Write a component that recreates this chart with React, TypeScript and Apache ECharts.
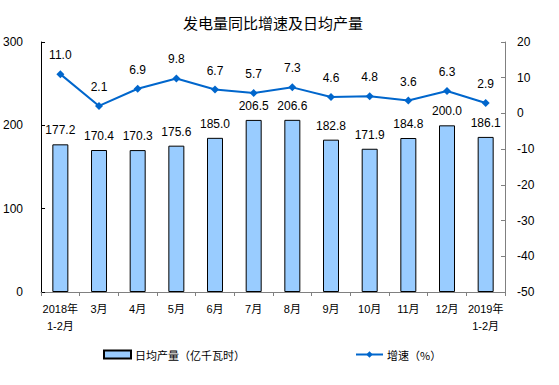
import React, { useEffect, useRef } from "react";
import * as echarts from "echarts";

const categories = ["2018年\n1-2月", "3月", "4月", "5月", "6月", "7月", "8月", "9月", "10月", "11月", "12月", "2019年\n1-2月"];
const dailyOutput = [177.2, 170.4, 170.3, 175.6, 185.0, 206.5, 206.6, 182.8, 171.9, 184.8, 200.0, 186.1];
const growthRate = [11.0, 2.1, 6.9, 9.8, 6.7, 5.7, 7.3, 4.6, 4.8, 3.6, 6.3, 2.9];
const leftTicks = { min: 0, max: 300, interval: 100 };
const rightTicks = { min: -50, max: 20, interval: 10 };
const title = "发电量同比增速及日均产量";
const barName = "日均产量（亿千瓦时）";
const lineName = "增速（%）";

const FONT = "'Liberation Sans', Arial, 'Noto Sans CJK SC', sans-serif";

export default function App() {
  const ref = useRef<HTMLDivElement>(null);
  useEffect(() => {
    document.body.style.margin = "0";
    const chart = echarts.init(ref.current!, undefined, { renderer: "svg" });
    chart.setOption({
      animation: false,
      backgroundColor: "#ffffff",
      textStyle: { fontFamily: FONT },
      title: {
        text: title,
        left: 268,
        textAlign: "center",
        top: 10,
        textStyle: { fontSize: 15, fontWeight: "normal", color: "#000", fontFamily: "'Noto Sans CJK SC', sans-serif" },
      },
      legend: {
        left: 98,
        top: 344,
        itemWidth: 27,
        itemHeight: 8,
        itemGap: 110,
        textStyle: { fontSize: 11, color: "#000", fontFamily: "'Noto Sans CJK SC', sans-serif", padding: [0, 0, 0, -1] },
        data: [
          { name: barName, icon: "rect" },
          { name: lineName },
        ],
      },
      grid: { left: 40, right: 54, top: 42, bottom: 93 },
      xAxis: {
        type: "category",
        data: categories,
        axisLine: { lineStyle: { color: "#808080", width: 1 } },
        axisTick: { show: true, alignWithLabel: false, length: 4, lineStyle: { color: "#808080" } },
        axisLabel: { interval: 0, fontSize: 11, color: "#000", lineHeight: 17, margin: 8 },
      },
      yAxis: [
        {
          type: "value",
          min: leftTicks.min,
          max: leftTicks.max,
          interval: leftTicks.interval,
          axisLine: { show: true, lineStyle: { color: "#000" } },
          axisTick: { show: true, inside: true, length: 4, lineStyle: { color: "#000" } },
          axisLabel: { fontSize: 12, color: "#000", margin: 18 },
          splitLine: { show: false },
        },
        {
          type: "value",
          min: rightTicks.min,
          max: rightTicks.max,
          interval: rightTicks.interval,
          axisLine: { show: true, lineStyle: { color: "#808080" } },
          axisTick: { show: true, inside: true, length: 4, lineStyle: { color: "#808080" } },
          axisLabel: { fontSize: 12, color: "#000", margin: 12 },
          splitLine: { show: false },
        },
      ],
      series: [
        {
          name: barName,
          type: "bar",
          data: dailyOutput,
          yAxisIndex: 0,
          barWidth: 16,
          itemStyle: { color: "#99CCFF", borderColor: "#000", borderWidth: 1 },
          label: {
            show: true,
            position: "top",
            distance: 8,
            fontSize: 12,
            color: "#000",
            formatter: (p: any) => Number(p.value).toFixed(1),
          },
        },
        {
          name: lineName,
          type: "line",
          data: growthRate,
          yAxisIndex: 1,
          symbol: "diamond",
          symbolSize: 8,
          itemStyle: { color: "#0066CC" },
          lineStyle: { color: "#0066CC", width: 2 },
          label: {
            show: true,
            position: "top",
            distance: 9,
            fontSize: 12,
            color: "#000",
            formatter: (p: any) => Number(p.value).toFixed(1),
          },
        },
      ],
    });
    return () => chart.dispose();
  }, []);
  return <div ref={ref} style={{ width: 559, height: 385, position: "fixed", left: 0, top: 0 }} />;
}
